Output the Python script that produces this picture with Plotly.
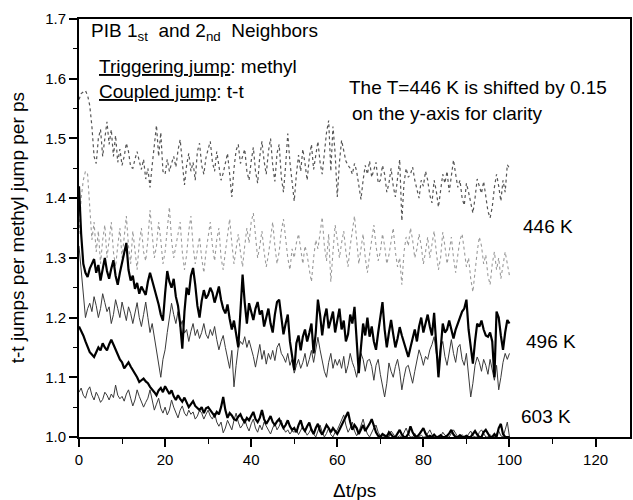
import plotly.graph_objects as go

# time axis: 0 .. 100 ps, sampled every 0.5 ps
t_ps = [i * 0.5 for i in range(201)]

# 446 K, shifted up by 0.15 for clarity (dark dotted)
t446_shifted = [
    1.565, 1.575, 1.578, 1.580, 1.572, 1.555, 1.520, 1.470, 1.458, 1.500, 1.515, 1.470, 1.500, 1.528, 1.490, 1.515, 1.470, 1.505, 1.460, 1.482,
    1.455, 1.470, 1.492, 1.478, 1.452, 1.450, 1.465, 1.478, 1.462, 1.448, 1.465, 1.432, 1.450, 1.418, 1.455, 1.490, 1.522, 1.470, 1.510, 1.445,
    1.440, 1.465, 1.445, 1.458, 1.470, 1.452, 1.480, 1.498, 1.460, 1.422, 1.455, 1.475, 1.445, 1.460, 1.430, 1.478, 1.492, 1.455, 1.440, 1.468,
    1.482, 1.495, 1.460, 1.445, 1.478, 1.455, 1.430, 1.442, 1.460, 1.475, 1.440, 1.402, 1.450, 1.480, 1.490, 1.458, 1.470, 1.482, 1.445, 1.430,
    1.462, 1.485, 1.445, 1.425, 1.470, 1.495, 1.462, 1.440, 1.478, 1.500, 1.455, 1.428, 1.475, 1.490, 1.435, 1.410, 1.455, 1.508, 1.460, 1.430,
    1.395, 1.440, 1.472, 1.445, 1.482, 1.458, 1.430, 1.468, 1.490, 1.448, 1.475, 1.495, 1.460, 1.440, 1.475, 1.510, 1.530, 1.445, 1.520, 1.475,
    1.402, 1.460, 1.497, 1.478, 1.462, 1.455, 1.450, 1.440, 1.458, 1.445, 1.425, 1.398, 1.430, 1.455, 1.440, 1.462, 1.435, 1.450, 1.460, 1.425,
    1.430, 1.455, 1.440, 1.410, 1.425, 1.450, 1.420, 1.402, 1.440, 1.465, 1.362, 1.425, 1.450, 1.435, 1.440, 1.452, 1.430, 1.415, 1.400, 1.430,
    1.420, 1.445, 1.430, 1.405, 1.392, 1.430, 1.412, 1.385, 1.418, 1.440, 1.425, 1.445, 1.410, 1.435, 1.464, 1.440, 1.418, 1.430, 1.400, 1.388,
    1.425, 1.410, 1.390, 1.375, 1.400, 1.432, 1.420, 1.408, 1.428, 1.400, 1.378, 1.367, 1.385, 1.418, 1.440, 1.420, 1.395, 1.430, 1.410, 1.456,
    1.450,
]

# 446 K, second curve (light dotted)
t446 = [
    1.340, 1.400, 1.430, 1.445, 1.440, 1.380, 1.330, 1.360, 1.310, 1.345, 1.290, 1.330, 1.355, 1.300, 1.335, 1.360, 1.310, 1.285, 1.320, 1.350,
    1.300, 1.330, 1.370, 1.320, 1.290, 1.345, 1.310, 1.280, 1.325, 1.350, 1.310, 1.295, 1.330, 1.380, 1.340, 1.300, 1.320, 1.360, 1.330, 1.290,
    1.310, 1.350, 1.385, 1.330, 1.300, 1.320, 1.340, 1.360, 1.310, 1.280, 1.305, 1.345, 1.370, 1.320, 1.290, 1.315, 1.335, 1.300, 1.275, 1.310,
    1.340, 1.360, 1.320, 1.295, 1.330, 1.350, 1.300, 1.280, 1.310, 1.340, 1.365, 1.325, 1.290, 1.315, 1.340, 1.310, 1.285, 1.320, 1.350, 1.325,
    1.360, 1.375, 1.330, 1.300, 1.320, 1.345, 1.310, 1.285, 1.305, 1.335, 1.360, 1.320, 1.290, 1.310, 1.345, 1.365, 1.330, 1.300, 1.280, 1.315,
    1.300, 1.325, 1.340, 1.310, 1.290, 1.320, 1.305, 1.280, 1.260, 1.300, 1.330, 1.315, 1.345, 1.368, 1.320, 1.295, 1.340, 1.260, 1.310, 1.355,
    1.330, 1.300, 1.325, 1.345, 1.310, 1.285, 1.320, 1.350, 1.370, 1.330, 1.290, 1.315, 1.340, 1.300, 1.275, 1.305, 1.330, 1.355, 1.320, 1.295,
    1.310, 1.340, 1.320, 1.290, 1.305, 1.330, 1.350, 1.310, 1.285, 1.300, 1.255, 1.310, 1.335, 1.320, 1.350, 1.330, 1.300, 1.315, 1.340, 1.320,
    1.290, 1.310, 1.335, 1.300, 1.325, 1.345, 1.310, 1.280, 1.300, 1.343, 1.320, 1.290, 1.310, 1.335, 1.300, 1.275, 1.305, 1.330, 1.340, 1.310,
    1.285, 1.300, 1.265, 1.243, 1.280, 1.310, 1.335, 1.320, 1.290, 1.305, 1.270, 1.255, 1.290, 1.310, 1.280, 1.300, 1.265, 1.285, 1.310, 1.290,
    1.270,
]

# 496 K, thick curve
t496_a = [
    1.420, 1.340, 1.290, 1.275, 1.268, 1.282, 1.290, 1.298, 1.275, 1.288, 1.262, 1.285, 1.300, 1.278, 1.265, 1.282, 1.296, 1.270, 1.255, 1.275,
    1.290, 1.310, 1.325, 1.280, 1.262, 1.270, 1.248, 1.258, 1.240, 1.252, 1.245, 1.238, 1.260, 1.275, 1.262, 1.250, 1.235, 1.222, 1.205, 1.195,
    1.240, 1.278, 1.260, 1.250, 1.265, 1.235, 1.220, 1.190, 1.148, 1.210, 1.250, 1.238, 1.270, 1.283, 1.255, 1.220, 1.200, 1.228, 1.246, 1.232,
    1.238, 1.250, 1.242, 1.225, 1.238, 1.252, 1.230, 1.215, 1.207, 1.222, 1.198, 1.180, 1.195, 1.170, 1.150, 1.210, 1.272, 1.225, 1.190, 1.224,
    1.210, 1.196, 1.215, 1.226, 1.205, 1.212, 1.185, 1.198, 1.215, 1.190, 1.175, 1.205, 1.226, 1.230, 1.200, 1.172, 1.190, 1.205, 1.160, 1.135,
    1.112, 1.157, 1.170, 1.145, 1.168, 1.180, 1.160, 1.174, 1.190, 1.140, 1.175, 1.230, 1.205, 1.170, 1.200, 1.215, 1.182, 1.196, 1.210, 1.175,
    1.195, 1.215, 1.180, 1.195, 1.160, 1.172, 1.205, 1.190, 1.218, 1.160, 1.107, 1.150, 1.190, 1.170, 1.200, 1.168, 1.185, 1.160, 1.146, 1.175,
    1.205, 1.226, 1.180, 1.150, 1.175, 1.196, 1.172, 1.150, 1.165, 1.184, 1.170, 1.157, 1.145, 1.134, 1.150, 1.168, 1.180, 1.160, 1.185, 1.200,
    1.175, 1.190, 1.205, 1.185, 1.170, 1.208, 1.150, 1.100, 1.145, 1.190, 1.175, 1.180, 1.195, 1.180, 1.165, 1.180, 1.190, 1.200, 1.210, 1.215,
    1.230, 1.180, 1.150, 1.123, 1.160, 1.190, 1.185, 1.195, 1.180, 1.170, 1.168, 1.175, 1.160, 1.100, 1.210, 1.200, 1.170, 1.146, 1.175, 1.196,
    1.190,
]

# 496 K, thin curve
t496_b = [
    1.320, 1.280, 1.230, 1.200, 1.215, 1.224, 1.210, 1.235, 1.220, 1.200, 1.215, 1.240, 1.225, 1.210, 1.218, 1.190, 1.205, 1.230, 1.215, 1.200,
    1.226, 1.210, 1.195, 1.218, 1.207, 1.190, 1.210, 1.225, 1.200, 1.185, 1.205, 1.226, 1.200, 1.175, 1.190, 1.167, 1.150, 1.125, 1.100, 1.130,
    1.146, 1.175, 1.200, 1.224, 1.205, 1.190, 1.210, 1.185, 1.195, 1.174, 1.180, 1.160, 1.177, 1.190, 1.170, 1.180, 1.165, 1.175, 1.190, 1.172,
    1.165, 1.180, 1.170, 1.185, 1.163, 1.146, 1.160, 1.170, 1.150, 1.135, 1.115, 1.145, 1.084, 1.120, 1.150, 1.160, 1.155, 1.168, 1.150, 1.162,
    1.150, 1.135, 1.117, 1.140, 1.155, 1.130, 1.145, 1.122, 1.140, 1.130, 1.145, 1.128, 1.150, 1.157, 1.140, 1.134, 1.125, 1.140, 1.120, 1.130,
    1.107, 1.120, 1.130, 1.115, 1.125, 1.140, 1.118, 1.130, 1.145, 1.125, 1.150, 1.167, 1.146, 1.130, 1.110, 1.100, 1.125, 1.140, 1.115, 1.130,
    1.120, 1.130, 1.115, 1.135, 1.107, 1.120, 1.140, 1.125, 1.115, 1.100, 1.120, 1.140, 1.130, 1.110, 1.128, 1.130, 1.118, 1.095, 1.120, 1.130,
    1.105, 1.085, 1.067, 1.090, 1.124, 1.110, 1.100, 1.118, 1.130, 1.110, 1.079, 1.100, 1.117, 1.120, 1.105, 1.090, 1.110, 1.130, 1.146, 1.135,
    1.120, 1.135, 1.130, 1.146, 1.155, 1.168, 1.140, 1.125, 1.150, 1.160, 1.135, 1.120, 1.145, 1.163, 1.140, 1.125, 1.150, 1.155, 1.130, 1.120,
    1.140, 1.100, 1.067, 1.090, 1.120, 1.134, 1.125, 1.110, 1.130, 1.120, 1.105, 1.130, 1.110, 1.095, 1.120, 1.079, 1.100, 1.125, 1.140, 1.130,
    1.140,
]

# 603 K, thick curve
t603_a = [
    1.185, 1.178, 1.170, 1.160, 1.150, 1.142, 1.138, 1.134, 1.142, 1.150, 1.145, 1.157, 1.150, 1.145, 1.155, 1.163, 1.155, 1.146, 1.138, 1.130,
    1.125, 1.115, 1.120, 1.125, 1.118, 1.112, 1.107, 1.100, 1.092, 1.095, 1.098, 1.093, 1.090, 1.084, 1.080, 1.075, 1.070, 1.078, 1.082, 1.075,
    1.085, 1.079, 1.072, 1.078, 1.068, 1.062, 1.070, 1.064, 1.059, 1.066, 1.058, 1.050, 1.055, 1.060, 1.052, 1.048, 1.045, 1.050, 1.040, 1.048,
    1.050, 1.045, 1.040, 1.035, 1.042, 1.038, 1.050, 1.067, 1.045, 1.032, 1.040, 1.036, 1.030, 1.028, 1.034, 1.038, 1.030, 1.025, 1.032, 1.028,
    1.035, 1.042, 1.030, 1.025, 1.032, 1.045, 1.030, 1.022, 1.028, 1.035, 1.025, 1.020, 1.026, 1.030, 1.022, 1.015, 1.020, 1.028, 1.018, 1.012,
    1.015, 1.008, 1.020, 1.028, 1.015, 1.010, 1.018, 1.024, 1.012, 1.005, 1.015, 1.022, 1.010, 1.004, 1.012, 1.020, 1.015, 1.008, 1.015, 1.010,
    1.005, 1.012, 1.020, 1.028, 1.035, 1.042, 1.025, 1.012, 1.020, 1.015, 1.005, 1.012, 1.020, 1.010, 1.015, 1.022, 1.030, 1.018, 1.008, 1.002,
    1.000, 1.005, 1.002, 1.000, 1.008, 1.003, 1.000, 1.000, 1.006, 1.012, 1.004, 1.000, 1.000, 1.005, 1.018, 1.008, 1.002, 1.000, 1.004, 1.010,
    1.015, 1.006, 1.000, 1.002, 1.000, 1.004, 1.000, 1.000, 1.003, 1.000, 1.000, 1.002, 1.006, 1.012, 1.004, 1.000, 1.000, 1.003, 1.000, 1.000,
    1.002, 1.000, 1.000, 1.005, 1.010, 1.004, 1.000, 1.000, 1.008, 1.012, 1.006, 1.000, 1.000, 1.005, 1.000, 1.015, 1.022, 1.005, 1.000, 1.000,
    1.000,
]

# 603 K, thin curve
t603_b = [
    1.075, 1.082, 1.070, 1.065, 1.078, 1.084, 1.070, 1.062, 1.075, 1.068, 1.058, 1.063, 1.075, 1.070, 1.062, 1.072, 1.066, 1.087, 1.070, 1.064,
    1.068, 1.060, 1.072, 1.079, 1.065, 1.052, 1.062, 1.079, 1.068, 1.058, 1.050, 1.058, 1.065, 1.079, 1.060, 1.045, 1.055, 1.065, 1.048, 1.040,
    1.050, 1.037, 1.045, 1.062, 1.050, 1.040, 1.032, 1.045, 1.052, 1.040, 1.035, 1.045, 1.038, 1.042, 1.030, 1.035, 1.045, 1.040, 1.030, 1.038,
    1.045, 1.035, 1.030, 1.040, 1.025, 1.018, 1.025, 1.007, 1.015, 1.028, 1.020, 1.012, 1.028, 1.040, 1.025, 1.015, 1.020, 1.030, 1.018, 1.010,
    1.022, 1.030, 1.015, 1.008, 1.020, 1.012, 1.025, 1.018, 1.010, 1.005, 1.015, 1.023, 1.012, 1.018, 1.028, 1.015, 1.008, 1.012, 1.005, 1.010,
    1.008, 1.012, 1.004, 1.010, 1.018, 1.010, 1.003, 1.008, 1.015, 1.005, 1.000, 1.010, 1.020, 1.008, 1.000, 1.006, 1.015, 1.004, 1.000, 1.008,
    1.012, 1.020, 1.030, 1.037, 1.020, 1.008, 1.015, 1.025, 1.010, 1.002, 1.008, 1.020, 1.030, 1.015, 1.005, 1.000, 1.008, 1.015, 1.020, 1.008,
    1.002, 1.000, 1.000, 1.004, 1.000, 1.010, 1.005, 1.000, 1.000, 1.002, 1.000, 1.008, 1.015, 1.005, 1.000, 1.000, 1.006, 1.000, 1.000, 1.003,
    1.000, 1.000, 1.006, 1.012, 1.004, 1.000, 1.000, 1.002, 1.000, 1.008, 1.003, 1.000, 1.000, 1.005, 1.012, 1.006, 1.000, 1.000, 1.004, 1.000,
    1.000, 1.005, 1.010, 1.002, 1.000, 1.000, 1.008, 1.012, 1.005, 1.000, 1.000, 1.004, 1.000, 1.000, 1.006, 1.010, 1.002, 1.000, 1.012, 1.025,
    1.000,
]

x_ticks = [0, 20, 40, 60, 80, 100, 120]
y_ticks = [1.0, 1.1, 1.2, 1.3, 1.4, 1.5, 1.6, 1.7]
y_ticklabels = ["1.0", "1.1", "1.2", "1.3", "1.4", "1.5", "1.6", "1.7"]

FONT = "Liberation Sans, Arial, Helvetica, sans-serif"

fig = go.Figure()

series = [
    (t446_shifted, dict(color="#555555", width=1.2, dash="dot")),
    (t446, dict(color="#9a9a9a", width=1.1, dash="dot")),
    (t496_b, dict(color="#3a3a3a", width=1.0)),
    (t603_b, dict(color="#3a3a3a", width=1.0)),
    (t496_a, dict(color="black", width=2.2)),
    (t603_a, dict(color="black", width=2.2)),
]
for ys, line in series:
    fig.add_trace(go.Scatter(x=t_ps, y=ys, mode="lines", line=line,
                             showlegend=False, hoverinfo="skip"))

text_font = dict(family=FONT, size=19, color="black")
notes = [
    (2.3, 1.678, "PIB 1<sub>st</sub>  and 2<sub>nd</sub>  Neighbors"),
    (4.2, 1.620, "<u>Triggering jump</u>: methyl"),
    (4.2, 1.578, "<u>Coupled jump</u>: t-t"),
    (62.3, 1.585, "The T=446 K is shifted by 0.15"),
    (63.0, 1.542, "on the y-axis for clarity"),
    (102.7, 1.352, "446 K"),
    (103.3, 1.160, "496 K"),
    (102.2, 1.035, "603 K"),
]
for nx, ny, txt in notes:
    fig.add_annotation(x=nx, y=ny, text=txt, showarrow=False, xanchor="left",
                       yanchor="middle", font=text_font)

# axis titles
fig.add_annotation(xref="paper", yref="paper", x=0.5, y=-0.127, text="Δt/ps",
                   showarrow=False, xanchor="center", yanchor="middle", font=text_font)
fig.add_annotation(xref="paper", yref="paper", x=-0.112, y=0.5,
                   text="t-t jumps per methyl jump per ps", textangle=-90,
                   showarrow=False, xanchor="center", yanchor="middle", font=text_font)

axis_common = dict(showgrid=False, zeroline=False, showline=True, linecolor="black",
                   linewidth=2, mirror=True, ticks="outside", ticklen=8, tickwidth=1.5,
                   tickcolor="black", tickfont=dict(family=FONT, size=15, color="black"))

fig.update_xaxes(range=[0, 128], tickvals=x_ticks,
                 minor=dict(dtick=10, tick0=0, ticks="outside", ticklen=5, tickcolor="black", tickwidth=1.2),
                 **axis_common)
fig.update_yaxes(range=[1.0, 1.7], tickvals=y_ticks, ticktext=y_ticklabels,
                 minor=dict(dtick=0.05, tick0=1.0, ticks="outside", ticklen=4, tickcolor="black", tickwidth=1.2),
                 **axis_common)

fig.update_layout(width=633, height=500, margin=dict(l=79, r=1, t=19, b=63),
                  plot_bgcolor="white", paper_bgcolor="white",
                  font=dict(family=FONT, color="black"))

fig.write_html("out.html")
